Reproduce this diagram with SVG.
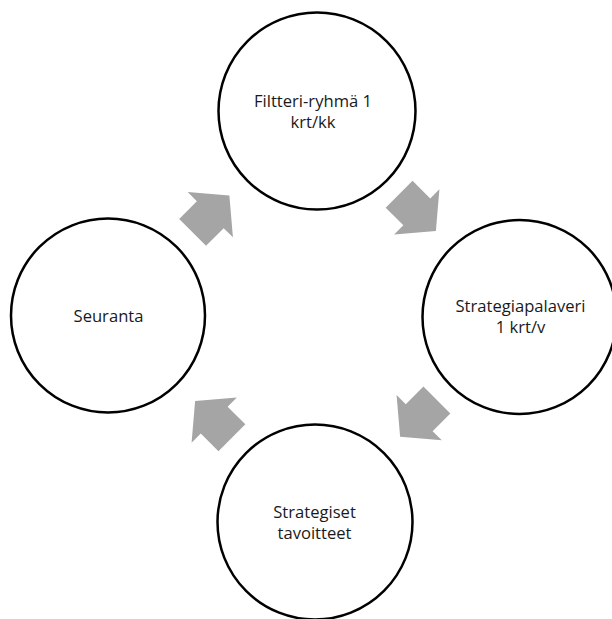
<svg xmlns="http://www.w3.org/2000/svg" width="612" height="619" viewBox="0 0 612 619">
  <style>
    .node circle { fill: #ffffff; stroke: #000000; stroke-width: 2.5; }
    .node text { font-family: "Open Sans", "Liberation Sans", sans-serif; font-size: 16.6px; fill: #1a1a1a; text-anchor: middle; }
    .arrow { fill: #a5a5a5; }
  </style>
  <defs>
    <!-- block arrow pointing along +x, centred on its midpoint -->
    <path id="cycleArrow" d="M -26 -19 L -1 -19 L -1 -32 L 26 0 L -1 32 L -1 19 L -26 19 Z"/>
  </defs>

  <g id="connectors">
    <use href="#cycleArrow" class="arrow" transform="translate(417.5 212.6) rotate(45)"/>
    <use href="#cycleArrow" class="arrow" transform="translate(418.5 418.4) rotate(135)"/>
    <use href="#cycleArrow" class="arrow" transform="translate(213.5 419.4) rotate(225)"/>
    <use href="#cycleArrow" class="arrow" transform="translate(211 214) rotate(315)"/>
  </g>

  <g id="node-filtteri" class="node">
    <circle cx="317" cy="111" r="98.5"/>
    <text x="313" y="107">Filtteri-ryhmä 1</text>
    <text x="313" y="128">krt/kk</text>
  </g>

  <g id="node-strategiapalaveri" class="node">
    <circle cx="519.5" cy="317" r="97"/>
    <text x="520.5" y="312">Strategiapalaveri</text>
    <text x="520.5" y="333">1 krt/v</text>
  </g>

  <g id="node-strategiset" class="node">
    <circle cx="315" cy="522" r="97.5"/>
    <text x="314.5" y="518">Strategiset</text>
    <text x="314.5" y="539">tavoitteet</text>
  </g>

  <g id="node-seuranta" class="node">
    <circle cx="108" cy="315.5" r="97"/>
    <text x="108.5" y="322">Seuranta</text>
  </g>
</svg>
